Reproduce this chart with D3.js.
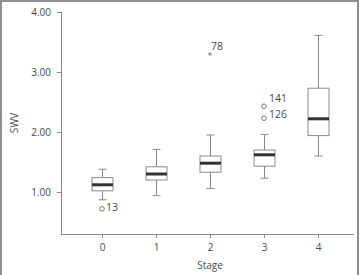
<!DOCTYPE html>
<html>
<head>
<meta charset="utf-8">
<script src="https://cdn.jsdelivr.net/npm/d3@7"></script>
<style>
  html, body { margin: 0; padding: 0; background: #fff; }
  svg { display: block; }
</style>
</head>
<body>
<div id="chart"></div>
<script>
// chart values
const stages = ["0", "1", "2", "3", "4"]
const whiskerLow  = [0.87, 0.94, 1.06, 1.23, 1.60]
const boxLow      = [1.02, 1.20, 1.33, 1.43, 1.94]
const medians     = [1.12, 1.30, 1.48, 1.62, 2.22]
const boxHigh     = [1.24, 1.42, 1.60, 1.70, 2.73]
const whiskerHigh = [1.38, 1.71, 1.95, 1.96, 3.61]
const outlierStage = ["0", "2", "3", "3"]
const outlierValue = [0.72, 3.30, 2.43, 2.23]
const outlierLabel = ["13", "78", "141", "126"]
const outlierKind  = ["circle", "star", "circle", "circle"]
const yTicks = [1, 2, 3, 4]

const width = 361
const height = 275
const marginLeft = 61
const marginRight = 7
const marginTop = 12
const axisY = 234
const boxWidth = 21
const capHalf = 4
const lineColor = "#8a8a8a"
const textColor = "#4a4a4a"
const font = "'Open Sans', sans-serif"
// label placement next to each outlier (dx, dy in pixels)
const labelDx = [4, 1, 5, 5]
const labelDy = [2, -4, -4, 0]

const svg = d3.select("#chart")
    .append("svg")
    .attr("width", width)
    .attr("height", height)
    .attr("viewBox", [0, 0, width, height])

// outer frame (open at the bottom)
svg.append("path")
    .attr("d", `M1,${height} V1 H${width - 3} V${height}`)
    .attr("fill", "none")
    .attr("stroke", "#8f8f8f")
    .attr("stroke-width", 2)

const xScale = d3.scalePoint(stages, [102, 318])
const yScale = d3.scaleLinear([0.3, 4.0], [axisY, marginTop])

// axes
const xAxis = d3.axisBottom(xScale).tickSize(4).tickPadding(6)
const yAxis = d3.axisLeft(yScale).tickValues(yTicks).tickFormat(d3.format(".2f")).tickSize(4).tickPadding(6)

svg.append("g")
    .attr("transform", `translate(0,${axisY})`)
    .call(xAxis)
    .call(g => g.select(".domain").remove())
    .call(g => g.selectAll("line").attr("stroke", lineColor))
    .call(g => g.selectAll("text").attr("fill", textColor).attr("font-size", 10).attr("font-family", font))

svg.append("line")
    .attr("x1", marginLeft).attr("x2", width - marginRight)
    .attr("y1", axisY + 0.5).attr("y2", axisY + 0.5)
    .attr("stroke", lineColor)

svg.append("g")
    .attr("transform", `translate(${marginLeft},0)`)
    .call(yAxis)
    .call(g => g.select(".domain").remove())
    .call(g => g.selectAll("line").attr("stroke", lineColor))
    .call(g => g.selectAll("text").attr("fill", textColor).attr("font-size", 10).attr("font-family", font))

svg.append("line")
    .attr("x1", marginLeft + 0.5).attr("x2", marginLeft + 0.5)
    .attr("y1", yScale(4)).attr("y2", axisY)
    .attr("stroke", lineColor)

// axis titles
svg.append("text")
    .attr("x", 210).attr("y", 269)
    .attr("text-anchor", "middle")
    .attr("fill", textColor).attr("font-size", 10).attr("font-family", font)
    .text("Stage")

svg.append("text")
    .attr("transform", `translate(18,${(marginTop + axisY) / 2}) rotate(-90)`)
    .attr("text-anchor", "middle")
    .attr("fill", textColor).attr("font-size", 10).attr("font-family", font)
    .text("SWV")

// boxes
const idx = d3.range(stages.length)
const boxes = svg.append("g")
    .attr("stroke", lineColor)
    .attr("fill", "none")
    .selectAll("g")
    .data(idx)
    .join("g")
    .attr("transform", i => `translate(${Math.round(xScale(stages[i])) + 0.5},0)`)

boxes.append("line")
    .attr("y1", i => yScale(whiskerHigh[i]))
    .attr("y2", i => yScale(boxHigh[i]))
boxes.append("line")
    .attr("y1", i => yScale(boxLow[i]))
    .attr("y2", i => yScale(whiskerLow[i]))
boxes.append("line")
    .attr("x1", -capHalf).attr("x2", capHalf)
    .attr("y1", i => yScale(whiskerHigh[i]))
    .attr("y2", i => yScale(whiskerHigh[i]))
boxes.append("line")
    .attr("x1", -capHalf).attr("x2", capHalf)
    .attr("y1", i => yScale(whiskerLow[i]))
    .attr("y2", i => yScale(whiskerLow[i]))
boxes.append("rect")
    .attr("x", -boxWidth / 2)
    .attr("width", boxWidth)
    .attr("y", i => yScale(boxHigh[i]))
    .attr("height", i => yScale(boxLow[i]) - yScale(boxHigh[i]))
    .attr("fill", "#fff")
boxes.append("line")
    .attr("x1", -boxWidth / 2).attr("x2", boxWidth / 2)
    .attr("y1", i => yScale(medians[i]))
    .attr("y2", i => yScale(medians[i]))
    .attr("stroke", "#333")
    .attr("stroke-width", 3)

// outliers
const oIdx = d3.range(outlierValue.length)
const outliers = svg.append("g")
    .selectAll("g")
    .data(oIdx)
    .join("g")
    .attr("transform", i => `translate(${xScale(outlierStage[i])},${yScale(outlierValue[i])})`)

outliers.filter(i => outlierKind[i] === "circle")
    .append("circle")
    .attr("r", 2.3)
    .attr("fill", "#fff")
    .attr("stroke", "#777")

outliers.filter(i => outlierKind[i] === "star")
    .append("path")
    .attr("d", d3.symbol(d3.symbolAsterisk, 10))
    .attr("stroke", "#777")
    .attr("stroke-width", 0.8)

outliers.append("text")
    .attr("x", i => labelDx[i])
    .attr("y", i => labelDy[i])
    .attr("fill", textColor).attr("font-size", 10.5).attr("font-family", font)
    .text(i => outlierLabel[i])
</script>
</body>
</html>
